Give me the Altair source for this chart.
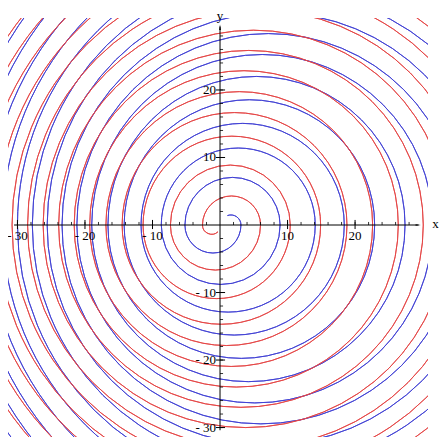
import math
import altair as alt
import pandas as pd

# Where each spiral starts, and where it crosses the x axis, in the order the
# curve meets the axis (magnitudes).
blue_start = (1.1, 1.4)
blue_pos = [3.1, 8.9, 14.1, 18.4, 22.9, 27.4, 31.5, 35.5, 39.5, 43.5, 47.5,
            51.5, 55.5, 59.5, 63.5, 67.5, 71.5, 75.5]
blue_neg = [5.2, 8.7, 11.7, 14.2, 16.6, 19.0, 21.2, 23.4, 25.6, 27.8, 30.0,
            32.2, 34.4, 36.6, 38.8, 41.0, 43.2, 45.4]

red_start = (-0.3, -1.0)
red_neg = [2.6, 7.35, 11.4, 14.5, 16.9, 19.3, 21.6, 23.9, 26.2, 28.5, 30.8,
           33.1, 35.4, 37.7, 40.0, 42.3, 44.6, 46.9]
red_pos = [6.0, 10.4, 14.9, 18.8, 22.6, 26.4, 30.1, 33.8, 37.5, 41.2, 44.9,
           48.6, 52.3, 56.0, 59.7, 63.4, 67.1, 70.8]

x_labels = ["- 30", "- 20", "- 10", "10", "20"]
x_label_vals = [-30, -20, -10, 10, 20]
y_labels = ["20", "10", "- 10", "- 20", "- 30"]
y_label_vals = [20, 10, -10, -20, -30]
x_major = [-30, -20, -10, 10, 20]
y_major = [20, 10, -10, -20, -30]
x_minor = [v for v in range(-30, 30, 2) if v != 0]
y_minor = [v for v in range(-30, 30, 2) if v != 0]

BLUE = "#4040d4"
RED = "#e44444"
FONT = "Liberation Serif"

XD = [-31.4, 30.8]
YD = [-31.4, 30.66]
W = 420
K = W / (XD[1] - XD[0])          # pixels per unit, same on both axes
H = round(K * (YD[1] - YD[0]))
xs = alt.Scale(domain=XD, nice=False, zero=False)
ys = alt.Scale(domain=YD, nice=False, zero=False)


def arc_rows(start, first_sign, pos, neg):
    """Half circles between successive axis crossings of the curve."""
    seq = []
    p_list, n_list = list(pos), list(neg)
    sign = first_sign
    while (p_list if sign > 0 else n_list):
        seq.append(p_list.pop(0) if sign > 0 else -n_list.pop(0))
        sign = -sign
    rows = []
    # the piece from the starting point to the first crossing
    px, py = start
    c0 = seq[0]
    h = (c0 ** 2 - px ** 2 - py ** 2) / (2 * (c0 - px))
    r = abs(c0 - h)
    t0 = math.atan2(px - h, py) % (2 * math.pi)
    t_end = math.pi / 2 if c0 > 0 else 3 * math.pi / 2
    while t_end < t0:
        t_end += 2 * math.pi
    rows.append({"cx": h, "rad": r, "t1": t0, "t2": t_end})
    for s, e in zip(seq[:-1], seq[1:]):
        if s > 0:   # clockwise through the bottom
            t1, t2 = math.pi / 2, 3 * math.pi / 2
        else:       # clockwise through the top
            t1, t2 = 3 * math.pi / 2, 5 * math.pi / 2
        rows.append({"cx": (s + e) / 2, "rad": abs(s - e) / 2, "t1": t1, "t2": t2})
    df = pd.DataFrame(rows)
    df["cy"] = 0.0
    return df


def spiral(df, color):
    return (
        alt.Chart(df)
        .transform_calculate(rpx=f"datum.rad * {K}")
        .mark_arc(clip=True, stroke=color, strokeWidth=0.9, fillOpacity=0)
        .encode(
            x=alt.X("cx:Q", scale=xs, axis=None),
            y=alt.Y("cy:Q", scale=ys, axis=None),
            radius=alt.Radius("rpx:Q", scale=None),
            radius2=alt.Radius2("rpx:Q"),
            theta=alt.Theta("t1:Q", scale=None, stack=None),
            theta2=alt.Theta2("t2:Q"),
        )
    )


blue = spiral(arc_rows(blue_start, 1, blue_pos, blue_neg), BLUE)
red = spiral(arc_rows(red_start, -1, red_pos, red_neg), RED)

one = pd.DataFrame({"a": [0]})
x_axis = alt.Chart(one).mark_rule(color="black", strokeWidth=1).encode(
    x=alt.datum(-30.5), x2=alt.datum(29.4), y=alt.datum(0))
y_axis = alt.Chart(one).mark_rule(color="black", strokeWidth=1).encode(
    x=alt.datum(0), y=alt.datum(-30.4), y2=alt.datum(29.4))

x_arrow = alt.Chart(one).mark_point(
    shape="M-1,-0.33L1,0L-1,0.33Z", filled=True, color="black", size=28, opacity=1
).encode(x=alt.datum(29.35), y=alt.datum(0))
y_arrow = alt.Chart(one).mark_point(
    shape="M-0.33,1L0,-1L0.33,1Z", filled=True, color="black", size=30, opacity=1
).encode(x=alt.datum(0), y=alt.datum(29.3))

x_minor_ticks = alt.Chart(pd.DataFrame({"t": x_minor})).mark_rule(color="black", strokeWidth=0.8).encode(
    x="t:Q", y=alt.datum(0), y2=alt.datum(0.45))
y_minor_ticks = alt.Chart(pd.DataFrame({"t": y_minor})).mark_rule(color="black", strokeWidth=0.8).encode(
    y="t:Q", x=alt.datum(0), x2=alt.datum(0.45))
x_major_ticks = alt.Chart(pd.DataFrame({"t": x_major})).mark_rule(color="black", strokeWidth=1).encode(
    x="t:Q", y=alt.datum(-0.6), y2=alt.datum(0.75))
y_major_ticks = alt.Chart(pd.DataFrame({"t": y_major})).mark_rule(color="black", strokeWidth=1).encode(
    y="t:Q", x=alt.datum(-0.6), x2=alt.datum(0.75))

x_text = alt.Chart(pd.DataFrame({"t": x_label_vals, "lab": x_labels})).mark_text(
    font=FONT, fontSize=13, color="black", dy=11, baseline="middle", align="center"
).encode(x="t:Q", y=alt.datum(0), text="lab:N")
y_text = alt.Chart(pd.DataFrame({"t": y_label_vals, "lab": y_labels})).mark_text(
    font=FONT, fontSize=13, color="black", dx=-4, baseline="middle", align="right"
).encode(y="t:Q", x=alt.datum(0), text="lab:N")

x_name = alt.Chart(pd.DataFrame({"lab": ["x"]})).mark_text(
    font=FONT, fontSize=13, color="black", baseline="middle", align="center"
).encode(x=alt.datum(31.9), y=alt.datum(0.2), text="lab:N")
y_name = alt.Chart(pd.DataFrame({"lab": ["y"]})).mark_text(
    font=FONT, fontSize=13, color="black", baseline="middle", align="center"
).encode(x=alt.datum(0), y=alt.datum(30.9), text="lab:N")

chart = alt.layer(
    blue, red, x_axis, y_axis, x_minor_ticks, y_minor_ticks, x_major_ticks, y_major_ticks,
    x_arrow, y_arrow, x_text, y_text, x_name, y_name
).properties(
    width=W, height=H,
    padding={"left": 0, "top": 10, "right": 12, "bottom": 3},
    autosize=alt.AutoSizeParams(type="none"),
    background="white",
).configure_view(stroke=None).configure_axis(disable=True)

chart.save("out.html", embed_options={"renderer": "svg", "actions": False})
